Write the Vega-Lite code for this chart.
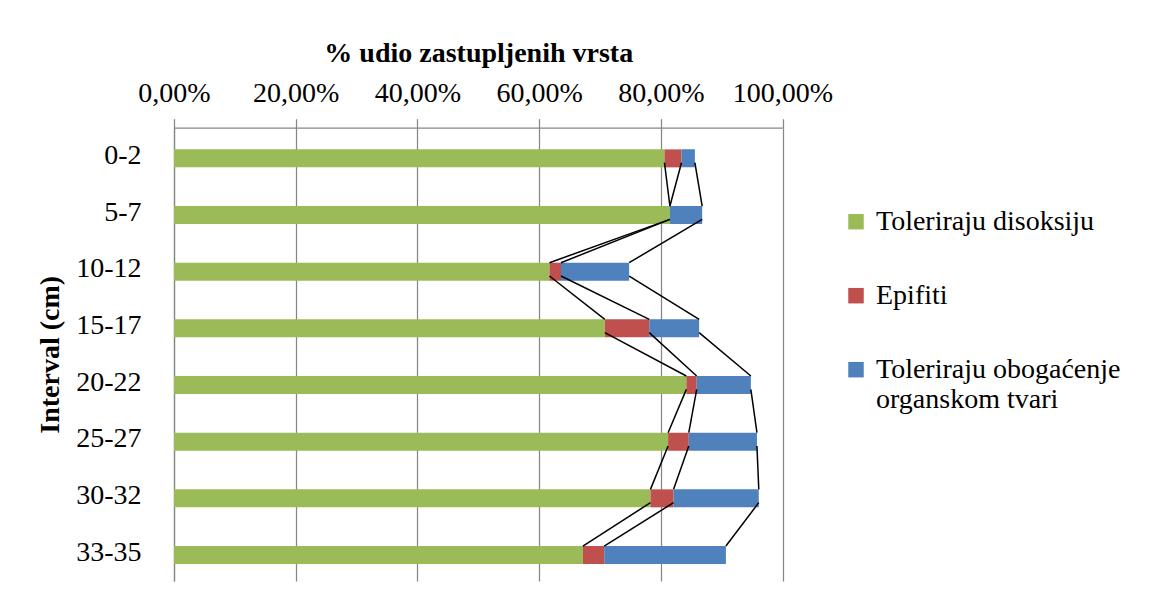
{
  "$schema": "https://vega.github.io/schema/vega-lite/v6.json",
  "width": 608.5,
  "height": 453.3,
  "autosize": "none",
  "padding": {"left": 174, "top": 127.7, "right": 386.5, "bottom": 22},
  "background": "white",
  "config": {"view": {"stroke": null}, "font": "Liberation Serif"},
  "datasets": {
    "bars": [
      {"interval": "0-2", "series": "Toleriraju disoksiju", "pct": 80.6},
      {"interval": "0-2", "series": "Epifiti", "pct": 2.8},
      {"interval": "0-2", "series": "Toleriraju obogaćenje organskom tvari", "pct": 2.2},
      {"interval": "5-7", "series": "Toleriraju disoksiju", "pct": 81.5},
      {"interval": "5-7", "series": "Epifiti", "pct": 0},
      {"interval": "5-7", "series": "Toleriraju obogaćenje organskom tvari", "pct": 5.3},
      {"interval": "10-12", "series": "Toleriraju disoksiju", "pct": 61.7},
      {"interval": "10-12", "series": "Epifiti", "pct": 1.9},
      {"interval": "10-12", "series": "Toleriraju obogaćenje organskom tvari", "pct": 11.2},
      {"interval": "15-17", "series": "Toleriraju disoksiju", "pct": 70.8},
      {"interval": "15-17", "series": "Epifiti", "pct": 7.3},
      {"interval": "15-17", "series": "Toleriraju obogaćenje organskom tvari", "pct": 8.2},
      {"interval": "20-22", "series": "Toleriraju disoksiju", "pct": 84.2},
      {"interval": "20-22", "series": "Epifiti", "pct": 1.7},
      {"interval": "20-22", "series": "Toleriraju obogaćenje organskom tvari", "pct": 8.9},
      {"interval": "25-27", "series": "Toleriraju disoksiju", "pct": 81.2},
      {"interval": "25-27", "series": "Epifiti", "pct": 3.4},
      {"interval": "25-27", "series": "Toleriraju obogaćenje organskom tvari", "pct": 11.2},
      {"interval": "30-32", "series": "Toleriraju disoksiju", "pct": 78.3},
      {"interval": "30-32", "series": "Epifiti", "pct": 3.8},
      {"interval": "30-32", "series": "Toleriraju obogaćenje organskom tvari", "pct": 14.0},
      {"interval": "33-35", "series": "Toleriraju disoksiju", "pct": 67.2},
      {"interval": "33-35", "series": "Epifiti", "pct": 3.5},
      {"interval": "33-35", "series": "Toleriraju obogaćenje organskom tvari", "pct": 20.0}
    ],
    "links": [
      {"link": "g1", "interval": "0-2", "side": "bottom", "pct": 80.6},
      {"link": "g1", "interval": "5-7", "side": "top", "pct": 81.5},
      {"link": "g2", "interval": "5-7", "side": "bottom", "pct": 81.5},
      {"link": "g2", "interval": "10-12", "side": "top", "pct": 61.7},
      {"link": "g3", "interval": "10-12", "side": "bottom", "pct": 61.7},
      {"link": "g3", "interval": "15-17", "side": "top", "pct": 70.8},
      {"link": "g4", "interval": "15-17", "side": "bottom", "pct": 70.8},
      {"link": "g4", "interval": "20-22", "side": "top", "pct": 84.2},
      {"link": "g5", "interval": "20-22", "side": "bottom", "pct": 84.2},
      {"link": "g5", "interval": "25-27", "side": "top", "pct": 81.2},
      {"link": "g6", "interval": "25-27", "side": "bottom", "pct": 81.2},
      {"link": "g6", "interval": "30-32", "side": "top", "pct": 78.3},
      {"link": "g7", "interval": "30-32", "side": "bottom", "pct": 78.3},
      {"link": "g7", "interval": "33-35", "side": "top", "pct": 67.2},
      {"link": "r1", "interval": "0-2", "side": "bottom", "pct": 83.4},
      {"link": "r1", "interval": "5-7", "side": "top", "pct": 81.5},
      {"link": "r2", "interval": "5-7", "side": "bottom", "pct": 81.5},
      {"link": "r2", "interval": "10-12", "side": "top", "pct": 63.6},
      {"link": "r3", "interval": "10-12", "side": "bottom", "pct": 63.6},
      {"link": "r3", "interval": "15-17", "side": "top", "pct": 78.1},
      {"link": "r4", "interval": "15-17", "side": "bottom", "pct": 78.1},
      {"link": "r4", "interval": "20-22", "side": "top", "pct": 85.9},
      {"link": "r5", "interval": "20-22", "side": "bottom", "pct": 85.9},
      {"link": "r5", "interval": "25-27", "side": "top", "pct": 84.6},
      {"link": "r6", "interval": "25-27", "side": "bottom", "pct": 84.6},
      {"link": "r6", "interval": "30-32", "side": "top", "pct": 82.1},
      {"link": "r7", "interval": "30-32", "side": "bottom", "pct": 82.1},
      {"link": "r7", "interval": "33-35", "side": "top", "pct": 70.7},
      {"link": "b1", "interval": "0-2", "side": "bottom", "pct": 85.6},
      {"link": "b1", "interval": "5-7", "side": "top", "pct": 86.8},
      {"link": "b2", "interval": "5-7", "side": "bottom", "pct": 86.8},
      {"link": "b2", "interval": "10-12", "side": "top", "pct": 74.8},
      {"link": "b3", "interval": "10-12", "side": "bottom", "pct": 74.8},
      {"link": "b3", "interval": "15-17", "side": "top", "pct": 86.3},
      {"link": "b4", "interval": "15-17", "side": "bottom", "pct": 86.3},
      {"link": "b4", "interval": "20-22", "side": "top", "pct": 94.8},
      {"link": "b5", "interval": "20-22", "side": "bottom", "pct": 94.8},
      {"link": "b5", "interval": "25-27", "side": "top", "pct": 95.8},
      {"link": "b6", "interval": "25-27", "side": "bottom", "pct": 95.8},
      {"link": "b6", "interval": "30-32", "side": "top", "pct": 96.1},
      {"link": "b7", "interval": "30-32", "side": "bottom", "pct": 96.1},
      {"link": "b7", "interval": "33-35", "side": "top", "pct": 90.7}
    ]
  },
  "layer": [
    {
      "data": {"name": "bars"},
      "transform": [
        {"window": [{"op": "row_number", "as": "stackRank"}], "groupby": ["interval"]}
      ],
      "mark": {"type": "bar"},
      "encoding": {
        "y": {
          "field": "interval",
          "type": "nominal",
          "sort": ["0-2", "5-7", "10-12", "15-17", "20-22", "25-27", "30-32", "33-35"],
          "scale": {"domain": ["0-2", "5-7", "10-12", "15-17", "20-22", "25-27", "30-32", "33-35"], "paddingInner": 0.765, "paddingOuter": 0.3825},
          "title": "Interval (cm)",
          "axis": {
            "orient": "left",
            "ticks": false,
            "tickSize": 0,
            "domain": true,
            "domainColor": "#868686",
            "domainWidth": 1.25,
            "labelFont": "Liberation Serif",
            "labelFontSize": 28,
            "labelColor": "#000000",
            "labelPadding": 33,
            "labelAlign": "right",
            "titleFont": "Liberation Serif",
            "titleFontSize": 28,
            "titleFontWeight": "bold",
            "titleColor": "#000000",
            "titlePadding": 11
          }
        },
        "x": {
          "field": "pct",
          "type": "quantitative",
          "stack": "zero",
          "scale": {"domain": [0, 100], "nice": false},
          "title": "% udio zastupljenih vrsta",
          "axis": {
            "orient": "top",
            "values": [0, 20, 40, 60, 80, 100],
            "labelExpr": "replace(format(datum.value, '.2f'), '.', ',') + '%'",
            "grid": true,
            "gridColor": "#868686",
            "gridWidth": 1.25,
            "domain": true,
            "domainColor": "#868686",
            "domainWidth": 1.25,
            "ticks": true,
            "tickSize": 9,
            "tickColor": "#868686",
            "tickWidth": 1.25,
            "labelFont": "Liberation Serif",
            "labelFontSize": 28,
            "labelColor": "#000000",
            "labelPadding": 11,
            "labelFlush": false,
            "labelOverlap": false,
            "titleFont": "Liberation Serif",
            "titleFontSize": 28,
            "titleFontWeight": "bold",
            "titleColor": "#000000",
            "titlePadding": 12
          }
        },
        "order": {"field": "stackRank", "type": "quantitative"},
        "color": {
          "field": "series",
          "type": "nominal",
          "sort": ["Toleriraju disoksiju", "Epifiti", "Toleriraju obogaćenje organskom tvari"],
          "scale": {
            "domain": ["Toleriraju disoksiju", "Epifiti", "Toleriraju obogaćenje organskom tvari"],
            "range": ["#9BBB59", "#C0504D", "#4F81BD"]
          },
          "legend": {
            "title": null,
            "orient": "none",
            "legendX": 668,
            "legendY": 80,
            "padding": 0,
            "symbolType": "square",
            "symbolSize": 240,
            "symbolStrokeWidth": 0,
            "labelFont": "Liberation Serif",
            "labelFontSize": 28,
            "labelColor": "#000000",
            "labelOffset": 6,
            "labelLimit": 400,
            "rowPadding": 46,
            "labelExpr": "datum.label == 'Toleriraju obogaćenje organskom tvari' ? ['Toleriraju obogaćenje', 'organskom tvari'] : datum.label"
          }
        }
      }
    },
    {
      "data": {"name": "links"},
      "mark": {"type": "line", "color": "#000000", "strokeWidth": 1.5},
      "encoding": {
        "y": {"field": "interval", "type": "nominal", "bandPosition": 0},
        "yOffset": {"field": "side", "type": "nominal", "scale": {"type": "point", "domain": ["top", "bottom"], "padding": 0}},
        "x": {"field": "pct", "type": "quantitative"},
        "detail": {"field": "link", "type": "nominal"}
      }
    }
  ]
}
